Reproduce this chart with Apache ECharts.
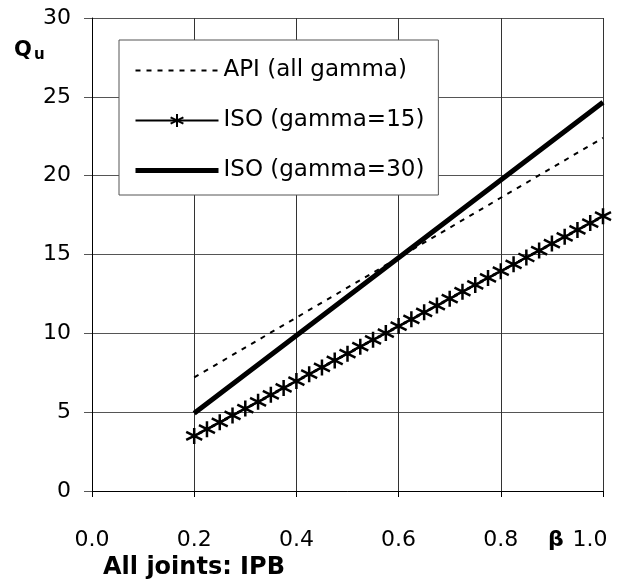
<!DOCTYPE html>
<html>
<head>
<meta charset="utf-8">
<script src="https://cdn.jsdelivr.net/npm/echarts@6/dist/echarts.min.js"></script>
<style>html,body{margin:0;padding:0;background:#fff;}#c{width:621px;height:581px;}</style>
</head>
<body>
<div id="c"></div>
<script>
// ---- data ----
const apiBeta = [0.2, 0.4, 0.6, 0.8, 1.0];
const apiQu = [7.2, 11.0, 14.8, 18.6, 22.4];
const iso30Beta = [0.2, 0.4, 0.6, 0.8, 1.0];
const iso30Qu = [4.93, 9.86, 14.79, 19.72, 24.65];
const iso15Beta = [0.200,0.225,0.250,0.275,0.300,0.325,0.350,0.375,0.400,0.425,0.450,0.475,0.500,0.525,0.550,0.575,0.600,0.625,0.650,0.675,0.700,0.725,0.750,0.775,0.800,0.825,0.850,0.875,0.900,0.925,0.950,0.975,1.000];
const iso15Qu = [3.49,3.92,4.36,4.79,5.23,5.66,6.10,6.54,6.97,7.41,7.84,8.28,8.71,9.15,9.59,10.02,10.46,10.89,11.33,11.76,12.20,12.64,13.07,13.51,13.94,14.38,14.81,15.25,15.69,16.12,16.56,16.99,17.43];
const seriesNames = ['API (all gamma)', 'ISO (gamma=15)', 'ISO (gamma=30)'];
const xTicks = {min: 0, max: 1, interval: 0.2};
const yTicks = {min: 0, max: 30, interval: 5};

const zip = (a, b) => a.map((v, i) => [v, b[i]]);
const FONT = 'DejaVu Sans';
const star = 'path://M8,0 L8,16 M1,4 L15,12 M1,12 L15,4';
const hidden = {color: 'rgba(0,0,0,0)', borderWidth: 0, borderColor: 'rgba(0,0,0,0)'};

const chart = echarts.init(document.getElementById('c'), null, {renderer: 'canvas'});
chart.setOption({
  animation: false,
  backgroundColor: '#fff',
  textStyle: {fontFamily: FONT},
  grid: {left: 92, right: 18, top: 18, bottom: 90},
  xAxis: {
    type: 'value', min: xTicks.min, max: xTicks.max, interval: xTicks.interval,
    axisLine: {lineStyle: {color: '#000', width: 1}},
    axisTick: {show: true, length: 6, lineStyle: {color: '#000'}},
    splitLine: {show: true, lineStyle: {color: '#333', width: 1}},
    axisLabel: {
      margin: 38, color: '#000', fontSize: 22, fontFamily: FONT,
      formatter: v => Math.abs(v - 1) < 1e-9 ? '{r|' + v.toFixed(1) + '}' : v.toFixed(1),
      rich: {r: {fontSize: 22, fontFamily: FONT, color: '#000', padding: [0, 26, 0, 0]}}
    }
  },
  yAxis: {
    type: 'value', min: yTicks.min, max: yTicks.max, interval: yTicks.interval,
    axisLine: {show: true, lineStyle: {color: '#000', width: 1}},
    axisTick: {show: true, length: 8, lineStyle: {color: '#555'}},
    splitLine: {show: true, lineStyle: {color: '#555', width: 1}},
    axisLabel: {margin: 21, color: '#000', fontSize: 22, fontFamily: FONT}
  },
  legend: {
    orient: 'vertical', left: 119, top: 40,
    padding: [19, 14, 13, 14],
    itemWidth: 83, itemHeight: 16, itemGap: 27,
    backgroundColor: '#fff', borderColor: '#555', borderWidth: 1, borderRadius: 0,
    textStyle: {fontSize: 23, fontFamily: FONT, color: '#000'},
    data: [
      {name: seriesNames[0], lineStyle: {width: 2}},
      {name: seriesNames[1], lineStyle: {width: 2}},
      {name: seriesNames[2], lineStyle: {width: 5}}
    ]
  },
  series: [
    {
      name: seriesNames[0], type: 'line', data: zip(apiBeta, apiQu),
      symbol: 'circle', showSymbol: false,
      lineStyle: {color: '#000', width: 2, type: [5, 6]},
      itemStyle: hidden
    },
    {
      name: seriesNames[1], type: 'line', data: zip(iso15Beta, iso15Qu),
      symbol: star, symbolSize: [16, 16], showSymbol: true,
      lineStyle: {color: '#000', width: 2},
      itemStyle: {color: '#000', borderColor: '#000', borderWidth: 2.5}
    },
    {
      name: seriesNames[2], type: 'line', data: zip(iso30Beta, iso30Qu),
      symbol: 'circle', showSymbol: false,
      lineStyle: {color: '#000', width: 5},
      itemStyle: hidden
    }
  ],
  graphic: [
    {type: 'text', left: 14, top: 40, style: {text: 'Q', font: 'bold 21px "DejaVu Sans"', fill: '#000'}},
    {type: 'text', left: 34, top: 48, style: {text: 'u', font: 'bold 15px "DejaVu Sans"', fill: '#000'}},
    {type: 'text', left: 548, top: 529, style: {text: 'β', font: 'bold 22px "DejaVu Sans"', fill: '#000'}},
    {type: 'text', left: 103, top: 556, style: {text: 'All joints: IPB', font: 'bold 24px "DejaVu Sans"', fill: '#000'}}
  ]
});
</script>
</body>
</html>
